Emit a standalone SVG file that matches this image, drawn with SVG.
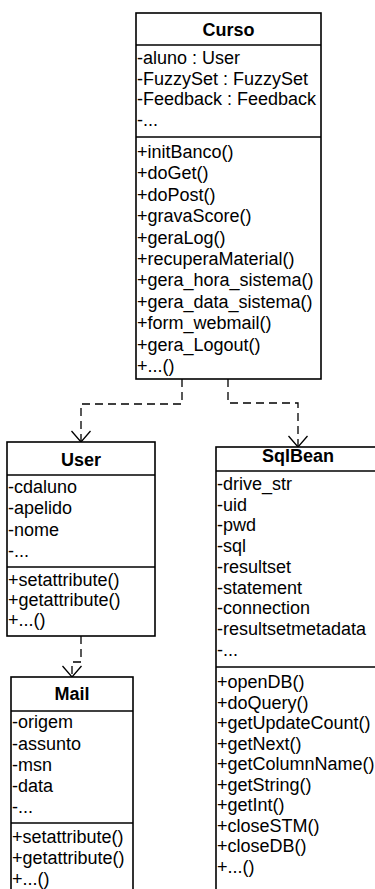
<svg xmlns="http://www.w3.org/2000/svg" width="375" height="889" viewBox="0 0 375 889">
<style>
.box{fill:#fff;stroke:#000;stroke-width:1.6}
.sep{stroke:#000;stroke-width:1.6}
.t{font-family:"Liberation Sans",Arial,sans-serif;font-size:18px;fill:#000}
.h{font-family:"Liberation Sans",Arial,sans-serif;font-size:18px;font-weight:bold;fill:#000;text-anchor:middle}
.c{fill:none;stroke:#000;stroke-width:1.3;stroke-dasharray:8 5}
</style>
<defs>
<marker id="open" markerUnits="userSpaceOnUse" markerWidth="24" markerHeight="24" viewBox="-12 -12 24 24" refX="0" refY="0" orient="auto" overflow="visible">
<path d="M -11 -9.5 L 0 0 L -11 9.5" fill="none" stroke="#000" stroke-width="1.3"/>
</marker>
</defs>
<rect width="375" height="889" fill="#fff"/>
<g id="connectors">
<path class="c" d="M 182 379 V 404 H 81 V 442" marker-end="url(#open)"/>
<path class="c" d="M 228 379 V 403 H 298 V 447" marker-end="url(#open)"/>
<path class="c" d="M 81 636 V 662 H 72 V 677" marker-end="url(#open)"/>
</g>
<g id="Curso">
<rect class="box" x="136" y="13" width="185" height="366"/>
<line class="sep" x1="136" y1="45" x2="321" y2="45"/>
<line class="sep" x1="136" y1="137" x2="321" y2="137"/>
<text class="h" x="228.5" y="35.5">Curso</text>
<text class="t" x="137" y="64">-aluno : User</text>
<text class="t" x="137" y="84.5">-FuzzySet : FuzzySet</text>
<text class="t" x="137" y="105">-Feedback : Feedback</text>
<text class="t" x="137" y="125.5">-...</text>
<text class="t" x="137" y="158">+initBanco()</text>
<text class="t" x="137" y="179.4">+doGet()</text>
<text class="t" x="137" y="200.8">+doPost()</text>
<text class="t" x="137" y="222.2">+gravaScore()</text>
<text class="t" x="137" y="243.6">+geraLog()</text>
<text class="t" x="137" y="265">+recuperaMaterial()</text>
<text class="t" x="137" y="286.4">+gera_hora_sistema()</text>
<text class="t" x="137" y="307.8">+gera_data_sistema()</text>
<text class="t" x="137" y="329.2">+form_webmail()</text>
<text class="t" x="137" y="350.6">+gera_Logout()</text>
<text class="t" x="137" y="372">+...()</text>
</g>
<g id="User">
<rect class="box" x="7" y="442" width="148" height="194"/>
<line class="sep" x1="7" y1="475" x2="155" y2="475"/>
<line class="sep" x1="7" y1="567" x2="155" y2="567"/>
<text class="h" x="81" y="466">User</text>
<text class="t" x="8" y="493">-cdaluno</text>
<text class="t" x="8" y="514.3">-apelido</text>
<text class="t" x="8" y="535.6">-nome</text>
<text class="t" x="8" y="557">-...</text>
<text class="t" x="8" y="586">+setattribute()</text>
<text class="t" x="8" y="606">+getattribute()</text>
<text class="t" x="8" y="626">+...()</text>
</g>
<g id="Mail">
<rect class="box" x="11" y="677" width="122" height="220"/>
<line class="sep" x1="11" y1="711" x2="133" y2="711"/>
<line class="sep" x1="11" y1="823" x2="133" y2="823"/>
<text class="h" x="72" y="700">Mail</text>
<text class="t" x="12" y="728">-origem</text>
<text class="t" x="12" y="749.5">-assunto</text>
<text class="t" x="12" y="771">-msn</text>
<text class="t" x="12" y="792">-data</text>
<text class="t" x="12" y="813">-...</text>
<text class="t" x="12" y="843">+setattribute()</text>
<text class="t" x="12" y="864">+getattribute()</text>
<text class="t" x="12" y="885">+...()</text>
</g>
<g id="SqlBean">
<rect class="box" x="216" y="447" width="164" height="450"/>
<line class="sep" x1="216" y1="471" x2="380" y2="471"/>
<line class="sep" x1="216" y1="667" x2="380" y2="667"/>
<text class="h" x="298" y="462">SqlBean</text>
<text class="t" x="217" y="490">-drive_str</text>
<text class="t" x="217" y="510.7">-uid</text>
<text class="t" x="217" y="531.4">-pwd</text>
<text class="t" x="217" y="552.1">-sql</text>
<text class="t" x="217" y="572.8">-resultset</text>
<text class="t" x="217" y="593.5">-statement</text>
<text class="t" x="217" y="614.2">-connection</text>
<text class="t" x="217" y="634.9">-resultsetmetadata</text>
<text class="t" x="217" y="655.6">-...</text>
<text class="t" x="217" y="688">+openDB()</text>
<text class="t" x="217" y="708.5">+doQuery()</text>
<text class="t" x="217" y="729">+getUpdateCount()</text>
<text class="t" x="217" y="749.5">+getNext()</text>
<text class="t" x="217" y="770">+getColumnName()</text>
<text class="t" x="217" y="790.5">+getString()</text>
<text class="t" x="217" y="811">+getInt()</text>
<text class="t" x="217" y="831.5">+closeSTM()</text>
<text class="t" x="217" y="852">+closeDB()</text>
<text class="t" x="217" y="872.5">+...()</text>
</g>
</svg>
